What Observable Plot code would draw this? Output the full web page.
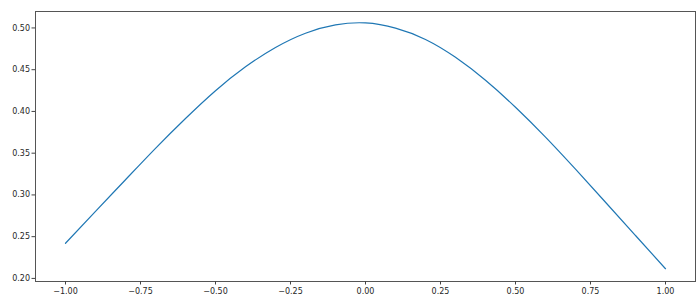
<!DOCTYPE html>
<html>
<head>
<meta charset="utf-8">
<script src="https://cdn.jsdelivr.net/npm/d3@7"></script>
<script src="https://cdn.jsdelivr.net/npm/@observablehq/plot@0.6"></script>
<style>
  html, body { margin: 0; padding: 0; background: #fff; }
  #chart svg { display: block; }
</style>
</head>
<body>
<div id="chart"></div>
<script>
const xValues = [-1.0, -0.9, -0.8, -0.7, -0.6, -0.5, -0.4, -0.3, -0.2, -0.1, 0.0, 0.1, 0.2, 0.3, 0.4, 0.5, 0.6, 0.7, 0.8, 0.9, 1.0];
const yValues = [0.2421, 0.2803, 0.3182, 0.3558, 0.3915, 0.4248, 0.4534, 0.4766, 0.4937, 0.5036, 0.5060, 0.4998, 0.4862, 0.4648, 0.4373, 0.4050, 0.3692, 0.3308, 0.2912, 0.2514, 0.2116];
const xTicks = [-1.0, -0.75, -0.5, -0.25, 0.0, 0.25, 0.5, 0.75, 1.0];
const yTicks = [0.20, 0.25, 0.30, 0.35, 0.40, 0.45, 0.50];

const data = xValues.map((x, i) => ({x, y: yValues[i]}));
const fmt = v => v.toFixed(2).replace("-", "\u2212");

const chart = Plot.plot({
  width: 700,
  height: 303,
  marginLeft: 35,
  marginRight: 5,
  marginTop: 11,
  marginBottom: 22,
  style: {fontFamily: "DejaVu Sans", fontSize: "8px", color: "#262626", background: "#fff"},
  x: {domain: [-1.1, 1.1]},
  y: {domain: [0.1963, 0.5197]},
  marks: [
    Plot.frame({stroke: "#555", strokeWidth: 1}),
    Plot.axisX({ticks: xTicks, tickFormat: fmt, tickSize: 3.5, tickPadding: 3, label: null, stroke: "#444", fontSize: 8}),
    Plot.axisY({ticks: yTicks, tickFormat: fmt, tickSize: 3.5, tickPadding: 2, label: null, stroke: "#444", fontSize: 8}),
    Plot.line(data, {x: "x", y: "y", curve: "natural", stroke: "#1f77b4", strokeWidth: 1.2})
  ]
});
document.getElementById("chart").appendChild(chart);
</script>
</body>
</html>
